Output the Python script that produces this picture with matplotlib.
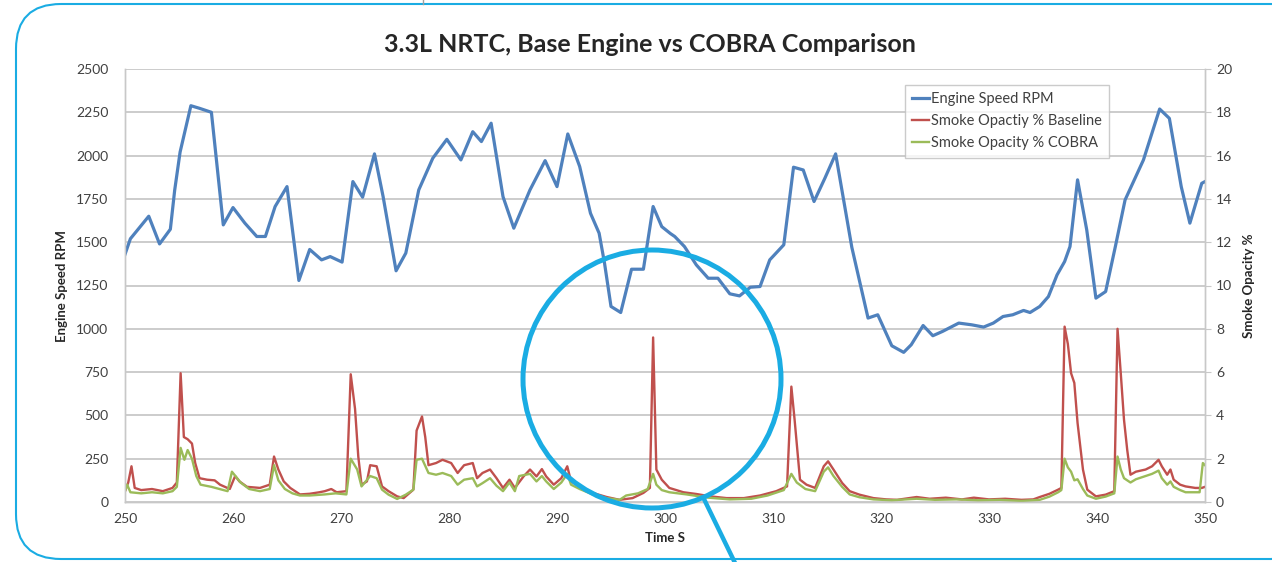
import matplotlib
matplotlib.use("Agg")
import matplotlib.pyplot as plt
from matplotlib.patches import FancyBboxPatch, Circle

plt.rcParams['font.family'] = ['Lato', 'DejaVu Sans']

# Engine speed (RPM)
rpm_time = [250.0, 250.5, 252.2, 253.2, 254.2, 254.6, 255.1, 256.1, 256.9, 258.0,
            259.1, 260.0, 261.1, 262.2, 263.0, 263.9, 265.0, 266.1, 267.1, 268.2,
            269.0, 270.1, 271.1, 272.0, 273.1, 273.9, 275.1, 276.0, 277.2, 278.5,
            279.8, 281.1, 282.2, 283.0, 283.9, 285.0, 286.0, 287.5, 288.9, 290.0,
            291.0, 292.1, 293.1, 293.9, 294.4, 295.0, 295.9, 296.9, 298.0, 298.9,
            299.7, 300.5, 300.9, 301.8, 302.9, 304.0, 304.9, 306.0, 306.9, 307.9,
            308.8, 309.7, 311.0, 311.9, 312.8, 313.8, 314.8, 315.8, 317.3, 318.8,
            319.7, 321.0, 322.1, 322.8, 323.9, 324.8, 325.7, 327.2, 328.4, 329.5,
            330.4, 331.3, 332.2, 333.2, 333.8, 334.7, 335.5, 336.3, 337.0, 337.5,
            338.2, 339.05, 339.9, 340.8, 341.7, 342.6, 344.3, 345.8, 346.7, 347.8,
            348.6, 349.7, 350.0]
rpm = [1430, 1520, 1650, 1490, 1575, 1800, 2020, 2288, 2273, 2250,
       1600, 1700, 1610, 1533, 1533, 1706, 1821, 1279, 1458, 1398,
       1417, 1385, 1850, 1760, 2010, 1763, 1335, 1437, 1802, 1985,
       2094, 1975, 2138, 2081, 2187, 1763, 1581, 1802, 1971, 1821,
       2125, 1937, 1667, 1552, 1379, 1129, 1094, 1344, 1344, 1706,
       1590, 1550, 1533, 1475, 1369, 1292, 1292, 1202, 1190, 1240,
       1244, 1398, 1485, 1933, 1917, 1735, 1869, 2010, 1470, 1062,
       1081, 902, 864, 908, 1019, 960, 985, 1033, 1023, 1010,
       1033, 1071, 1081, 1106, 1094, 1129, 1186, 1311, 1388, 1475,
       1860, 1571, 1177, 1215, 1475, 1744, 1975, 2269, 2215, 1821,
       1610, 1840, 1850]

# Smoke opacity %, baseline engine
base_time = [250.0, 250.3, 250.6, 250.9, 251.5, 252.5, 253.5, 254.4, 254.8, 255.15,
             255.45, 255.8, 256.2, 256.5, 256.9, 257.6, 258.3, 258.8, 259.7, 260.2,
             260.6, 261.3, 262.5, 263.4, 263.8, 264.2, 264.7, 265.3, 266.2, 267.1,
             268.0, 268.5, 269.1, 269.6, 270.5, 270.9, 271.3, 271.6, 271.9, 272.4,
             272.7, 273.3, 273.8, 274.4, 275.2, 275.8, 276.7, 277.0, 277.5, 277.8,
             278.1, 278.8, 279.4, 280.2, 280.8, 281.4, 282.2, 282.6, 283.1, 283.8,
             284.4, 285.0, 285.6, 286.1, 286.9, 287.5, 288.1, 288.6, 289.0, 289.7,
             290.4, 290.95, 291.3, 292.1, 293.3, 294.6, 295.8, 297.0, 298.0, 298.6,
             298.9, 299.2, 299.7, 300.4, 301.7, 302.9, 304.2, 305.7, 307.3, 308.8,
             310.3, 311.3, 311.7, 312.0, 312.5, 313.1, 313.9, 314.7, 315.1, 315.6,
             316.4, 317.1, 318.0, 319.3, 320.5, 321.5, 323.3, 324.5, 326.0, 327.5,
             328.6, 330.0, 331.5, 333.0, 334.1, 334.7, 335.6, 336.4, 336.7, 337.0,
             337.3, 337.6, 337.9, 338.2, 338.7, 339.1, 339.9, 340.8, 341.6, 341.9,
             342.2, 342.5, 342.8, 343.1, 343.6, 344.5, 345.1, 345.7, 346.0, 346.5,
             346.8, 347.1, 347.7, 348.2, 349.1, 349.7, 350.0]
base = [0.5, 0.9, 1.65, 0.65, 0.55, 0.6, 0.5, 0.65, 0.9, 5.95,
        3.0, 2.9, 2.7, 1.8, 1.1, 1.03, 1.0, 0.8, 0.6, 1.2,
        0.95, 0.7, 0.65, 0.8, 2.1, 1.5, 0.95, 0.65, 0.35, 0.38,
        0.45, 0.5, 0.6, 0.45, 0.5, 5.9, 4.3, 2.1, 0.8, 0.95,
        1.7, 1.65, 0.72, 0.5, 0.26, 0.18, 0.57, 3.3, 3.95, 3.0,
        1.7, 1.8, 1.95, 1.8, 1.34, 1.7, 1.8, 1.1, 1.34, 1.5,
        1.1, 0.65, 1.03, 0.65, 1.18, 1.5, 1.18, 1.52, 1.18, 0.8,
        1.1, 1.65, 0.95, 0.72, 0.42, 0.23, 0.1, 0.18, 0.42, 0.65,
        7.6, 1.5, 1.03, 0.65, 0.45, 0.37, 0.26, 0.18, 0.18, 0.3,
        0.5, 0.72, 5.33, 3.8, 1.03, 0.8, 0.65, 1.65, 1.88, 1.5,
        0.88, 0.5, 0.34, 0.18, 0.12, 0.1, 0.23, 0.15, 0.2, 0.12,
        0.2, 0.12, 0.15, 0.1, 0.12, 0.23, 0.38, 0.57, 0.65, 8.1,
        7.3, 5.95, 5.5, 3.65, 1.5, 0.57, 0.26, 0.34, 0.5, 8.0,
        5.95, 3.8, 2.4, 1.26, 1.4, 1.5, 1.65, 1.95, 1.65, 1.26,
        1.5, 1.03, 0.8, 0.72, 0.65, 0.65, 0.7]

# Smoke opacity %, COBRA
cobra_time = [250.0, 250.2, 250.5, 251.5, 252.5, 253.5, 254.4, 254.8, 255.15, 255.5,
              255.8, 256.2, 256.6, 257.0, 258.0, 259.5, 259.9, 260.7, 261.5, 262.5,
              263.4, 263.8, 264.2, 264.8, 265.5, 266.2, 267.1, 268.5, 269.5, 270.5,
              270.9, 271.5, 271.9, 272.7, 273.3, 273.8, 274.4, 275.2, 276.0, 276.7,
              277.0, 277.5, 278.1, 278.8, 279.4, 280.2, 280.8, 281.4, 282.2, 282.6,
              283.1, 283.8, 284.4, 285.0, 285.6, 286.1, 286.5, 287.5, 288.1, 288.6,
              289.0, 289.7, 290.4, 290.95, 291.3, 292.1, 293.3, 294.6, 295.8, 296.4,
              297.5, 298.4, 298.9, 299.2, 299.7, 300.4, 302.0, 304.0, 306.0, 308.0,
              309.5, 311.0, 311.7, 312.2, 313.0, 313.9, 314.7, 315.1, 315.6, 316.4,
              317.1, 318.0, 319.3, 321.0, 323.3, 325.0, 327.0, 329.0, 331.0, 333.0,
              334.7, 335.6, 336.4, 336.7, 337.0, 337.3, 337.6, 337.9, 338.2, 338.7,
              339.1, 339.9, 340.8, 341.6, 341.9, 342.2, 342.5, 343.1, 343.6, 344.5,
              345.1, 345.7, 346.0, 346.5, 346.8, 347.1, 347.7, 348.2, 349.1, 349.5,
              349.8, 350.0]
cobra = [0.5, 0.8, 0.45, 0.4, 0.45, 0.4, 0.5, 0.7, 2.5, 1.95,
         2.4, 2.0, 1.2, 0.8, 0.7, 0.5, 1.4, 0.9, 0.6, 0.5,
         0.6, 1.7, 1.0, 0.6, 0.4, 0.3, 0.3, 0.35, 0.4, 0.35,
         2.0, 1.5, 0.72, 1.2, 1.1, 0.57, 0.34, 0.14, 0.34, 0.57,
         1.95, 2.0, 1.34, 1.26, 1.34, 1.2, 0.8, 1.03, 1.1, 0.72,
         0.87, 1.1, 0.75, 0.5, 0.9, 0.5, 1.2, 1.3, 0.95, 1.2,
         0.95, 0.6, 0.9, 1.3, 0.8, 0.6, 0.35, 0.18, 0.1, 0.3,
         0.4, 0.6, 1.3, 0.8, 0.55, 0.45, 0.35, 0.2, 0.12, 0.15,
         0.3, 0.55, 1.3, 0.9, 0.6, 0.5, 1.4, 1.6, 1.2, 0.7,
         0.35, 0.22, 0.12, 0.08, 0.15, 0.1, 0.12, 0.08, 0.1, 0.05,
         0.1, 0.25, 0.45, 0.55, 2.0, 1.6, 1.4, 1.0, 1.05, 0.6,
         0.3, 0.15, 0.25, 0.4, 2.1, 1.5, 1.1, 0.9, 1.05, 1.2,
         1.3, 1.45, 1.1, 0.8, 0.95, 0.7, 0.55, 0.45, 0.45, 0.45,
         1.8, 1.7]

W, H = 1272, 562
fig = plt.figure(figsize=(W / 100, H / 100), dpi=100)
fig.patch.set_facecolor('white')

grid_col = '#C8C8C8'
tick_col = '#404040'

ax = fig.add_axes([125 / W, 1 - 502 / H, 1080 / W, 433 / H])
ax.plot(rpm_time, rpm, color='#4F81BD', lw=2.3, label='Engine Speed RPM', zorder=3)
ax.set_xlim(250, 350)
ax.set_ylim(0, 2500)
ax.set_xticks(range(250, 351, 10))
ax.set_yticks(range(0, 2501, 250))
ax.grid(axis='y', color=grid_col, lw=1.3)
ax.set_axisbelow(True)

ax2 = ax.twinx()
ax2.plot(base_time, base, color='#C0504D', lw=1.7, label='Smoke Opactiy % Baseline')
ax2.plot(cobra_time, cobra, color='#9BBB59', lw=1.7, label='Smoke Opacity % COBRA')
ax2.set_ylim(0, 20)
ax2.set_yticks(range(0, 21, 2))

for a in (ax, ax2):
    for s in a.spines.values():
        s.set_color(grid_col)
        s.set_linewidth(1.0)
    a.spines['top'].set_visible(False)
ax.tick_params(axis='y', length=0, labelsize=10, labelcolor=tick_col, pad=12)
ax.tick_params(axis='x', length=0, labelsize=10, labelcolor=tick_col, pad=8)
ax2.tick_params(axis='y', length=4, color=grid_col, labelsize=10, labelcolor=tick_col, pad=4)

ax.set_xlabel('Time S', fontsize=9.5, fontweight='bold', color='#262626', labelpad=5)
ax.set_ylabel('Engine Speed RPM', fontsize=9.5, fontweight='bold', color='#262626', labelpad=6)
ax2.set_ylabel('Smoke Opacity %', fontsize=9.5, fontweight='bold', color='#262626',
               rotation=90, labelpad=8)

h1, l1 = ax.get_legend_handles_labels()
h2, l2 = ax2.get_legend_handles_labels()
leg = ax2.legend(h1 + h2, l1 + l2, loc='upper left',
                 bbox_to_anchor=(905 / W, 1 - 85 / H), bbox_transform=fig.transFigure,
                 fontsize=10.5, frameon=True, fancybox=False, edgecolor='#BFBFBF',
                 handlelength=1.15, handletextpad=0.1, labelspacing=0.55,
                 borderpad=0.5, borderaxespad=0, labelcolor='#404040')
leg.get_frame().set_linewidth(1.0)

fig.text(650 / W, 1 - 45 / H, '3.3L NRTC, Base Engine vs COBRA Comparison',
         ha='center', va='center', fontsize=18, fontweight='bold', color='#262626')

# overlay in pixel units for the frame and the call-out circle
ov = fig.add_axes([0, 0, 1, 1], zorder=10)
ov.set_xlim(0, W)
ov.set_ylim(H, 0)
ov.axis('off')
ov.patch.set_alpha(0)
cyan = '#1AACE3'
ov.add_patch(FancyBboxPatch((16, 4), 1300, 555, boxstyle='round,pad=0,rounding_size=45',
                            fill=False, edgecolor=cyan, lw=1.5))
ov.plot([423, 423], [0, 4], color='#A0A0A0', lw=1)
ov.add_patch(Circle((652, 379), 129, fill=False, edgecolor=cyan, lw=3.6))
ov.plot([703, 736], [497, 565], color=cyan, lw=3.2, solid_capstyle='butt')

fig.savefig('out.png', dpi=100)
